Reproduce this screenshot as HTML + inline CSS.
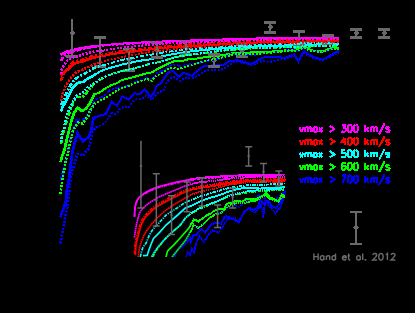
<!DOCTYPE html>
<html><head><meta charset="utf-8"><title>chart</title>
<style>html,body{margin:0;padding:0;background:#000;}body{width:415px;height:313px;overflow:hidden;font-family:"Liberation Sans",sans-serif;}svg{display:block}</style>
</head><body>
<svg width="415" height="313" viewBox="0 0 415 313" shape-rendering="crispEdges">
<rect width="415" height="313" fill="#000"/>
<defs><clipPath id="cl"><rect x="0" y="0" width="96" height="313"/></clipPath><clipPath id="cr"><rect x="96" y="0" width="319" height="313"/></clipPath><g id="mc" fill="none"><path d="M60.5 217.5L62.0 212.5L64.0 207.7L65.9 201.0L66.4 194.3L67.3 186.6L69.0 179.0L70.0 169.3L71.4 158.7L72.8 150.0L74.3 144.3L77.7 133.2L80.0 137.0L83.0 141.4L88.7 136.6L91.6 129.8L92.3 124.0L93.6 118.3L98.7 116.0L105.9 114.0L111.7 101.7L116.7 106.0L122.5 96.6L128.3 99.5L134.8 93.0L139.0 94.5L144.9 89.4L150.8 96.9L153.7 93.3L156.6 86.0L160.9 83.2L165.2 76.7L168.8 72.3L173.2 70.9L176.0 73.8L179.0 77.4L183.3 73.0L188.4 74.5L192.0 76.0L196.3 71.6L204.3 66.0L214.5 65.3L223.0 65.3L229.0 61.0L237.6 60.3L243.4 61.7L250.6 63.9L256.4 61.7L259.3 59.0L266.6 56.8L278.0 56.8L284.0 58.2L289.7 56.0L294.0 54.0L298.4 61.0L304.0 51.0L309.0 54.6L315.2 57.5L322.5 59.7L328.2 56.8L334.0 53.2L338.8 51.0" stroke="#0000ff"/><path d="M60.6 162.0L62.2 155.8L63.2 154.0L64.6 149.0L67.5 136.6L71.9 119.3L74.3 112.5L77.7 107.7L82.0 111.0L85.8 108.7L89.7 103.9L94.3 94.5L100.0 92.3L105.9 88.0L111.7 85.0L117.5 82.9L121.8 80.0L129.0 78.3L145.0 73.8L152.2 72.3L158.0 68.7L163.8 65.8L169.6 63.0L175.3 60.8L182.6 60.8L188.4 59.3L194.0 59.0L200.0 57.9L210.0 56.6L222.3 55.3L234.3 52.9L250.0 52.5L274.0 51.4L290.0 50.0L298.0 49.0L304.4 46.0L309.0 49.0L313.8 51.0L324.0 51.0L332.6 47.4L338.8 48.0" stroke="#00ff00"/><path d="M60.8 111.5L62.6 107.0L66.4 100.4L70.5 91.6L71.4 90.0L73.3 87.2L76.8 83.6L78.6 82.6L83.1 81.8L84.0 81.4L87.8 78.5L94.1 75.2L99.0 72.2L101.0 71.1L107.9 68.5L122.0 64.6L136.9 61.3L143.4 60.2L150.0 59.4L162.0 56.3L174.0 54.0L186.0 52.0L202.0 50.2L223.0 48.4L262.0 46.2L339.0 43.8" stroke="#00ffff"/><path d="M60.8 75.4L65.1 71.9L71.0 66.4L73.8 64.1L75.6 63.1L79.1 62.1L83.0 61.3L89.8 58.8L92.6 57.9L97.3 56.9L103.0 56.1L112.0 54.1L121.0 52.9L130.0 52.1L156.0 48.7L172.0 47.2L186.0 46.3L202.0 45.6L241.0 43.0L264.0 42.3L339.0 41.0" stroke="#ff0000"/><path d="M60.3 54.8L63.7 52.9L66.6 51.8L76.0 49.3L85.0 47.6L101.0 45.4L125.0 43.3L172.0 41.0L202.0 40.2L243.0 38.8L282.0 37.9L339.0 37.6" stroke="#ff00ff"/></g><g id="md" fill="none"><path d="M60.4 243.5L61.0 239.0L62.0 235.0L63.0 228.9L64.0 224.6L65.0 217.3L67.3 206.7L67.8 202.0L69.3 192.3L69.8 184.6L70.7 178.0L73.3 167.3L74.3 164.5L75.2 160.6L77.2 153.9L80.0 153.9L82.5 155.8L88.3 149.0L90.7 140.4L92.1 132.7L95.0 128.0L104.5 123.4L111.7 113.2L116.0 114.0L119.6 109.6L123.2 106.7L128.3 107.5L132.6 101.7L136.2 99.5L139.9 98.8L142.7 98.0L146.4 95.2L149.2 98.8L152.0 100.0L156.0 95.0L159.5 91.8L163.8 90.4L166.7 82.5L171.7 77.4L174.6 77.4L178.2 79.6L181.0 81.0L184.0 78.0L187.0 77.4L190.5 78.0L193.4 78.0L200.6 73.8L205.8 70.4L213.0 69.7L218.8 70.4L223.0 69.0L233.0 62.5L238.0 61.8L252.0 65.3L257.8 62.5L262.0 61.0L269.5 61.8L275.0 61.0L280.0 59.7L286.0 58.5L294.0 55.5L298.4 62.0L304.0 53.0L309.0 56.0L315.0 58.5L322.5 60.5L328.2 57.8L334.0 54.5L338.8 52.5" stroke="#0000ff" stroke-dasharray="2 1.5"/><path d="M61.0 181.0L62.0 175.0L67.0 156.7L68.5 148.0L71.0 137.5L74.3 128.0L77.0 119.0L84.0 120.0L91.6 109.6L92.6 105.8L94.5 100.0L97.2 98.8L104.0 96.5L110.0 90.0L113.0 88.7L121.0 87.5L127.6 85.8L139.0 80.5L146.4 78.0L152.0 79.5L156.6 73.0L162.0 71.0L165.0 69.5L168.0 66.6L172.5 65.0L175.3 64.4L179.0 66.0L182.6 65.8L185.5 65.0L192.7 64.0L197.0 63.0L201.4 62.5L210.0 60.3L220.0 59.0L225.0 57.0L231.0 53.8L240.5 53.8L250.6 55.2L260.8 53.9L281.0 51.7L292.6 48.8L298.0 52.0L304.0 47.0L310.0 50.5L322.0 52.0L333.0 48.5L338.8 49.0" stroke="#0000ff" stroke-dasharray="4.5 1.8 1.8 1.8"/><path d="M60.4 194.0L63.2 175.0L66.0 159.6L68.0 153.0L70.0 142.3L72.8 131.7L75.7 126.0L78.1 122.7L82.5 123.6L85.8 118.8L88.3 115.9L89.2 112.5L91.4 108.2L95.0 103.0L98.7 101.7L103.7 98.8L108.0 96.6L111.7 93.7L116.7 90.8L121.0 88.0L127.6 86.5L133.4 83.6L139.0 81.4L147.0 78.8L152.0 81.0L154.4 76.7L162.3 73.0L166.7 69.5L171.7 68.0L178.2 68.7L192.7 65.0L201.4 62.2L210.0 60.0L222.0 57.5L235.0 54.5L262.0 53.5L290.0 51.0L298.0 50.5L304.0 47.5L310.0 51.0L322.0 52.0L333.0 48.5L338.8 49.5" stroke="#00ff00" stroke-dasharray="2 1.5"/><path d="M60.8 144.3L63.0 133.0L69.5 112.5L73.3 102.5L76.7 97.2L82.5 96.7L85.8 93.8L88.7 90.0L93.4 84.5L100.0 80.0L107.0 76.0L114.5 73.2L121.0 71.3L129.0 69.6L143.4 66.0L149.3 63.9L160.0 62.0L167.0 59.5L174.0 57.5L186.0 55.4L222.0 50.8L242.0 49.0L262.0 48.0L282.0 47.5L339.0 45.6" stroke="#00ff00" stroke-dasharray="4.5 1.8 1.8 1.8"/><path d="M60.8 142.3L61.7 134.6L64.2 127.7L66.0 117.3L68.5 110.6L70.4 106.7L72.3 103.4L73.3 100.5L75.2 97.7L77.7 95.2L81.0 93.8L84.0 91.9L86.3 89.5L88.7 86.6L93.4 84.0L100.0 79.3L107.0 75.8L114.5 73.2L121.0 71.3L129.0 69.6L143.4 66.0L150.0 63.7L160.0 62.0L174.0 57.5L186.0 55.2L222.0 50.5L242.0 48.8L262.0 47.8L339.0 45.3" stroke="#00ffff" stroke-dasharray="2 1.5"/><path d="M60.8 105.0L63.3 101.2L64.0 99.8L65.8 94.5L69.0 87.8L72.8 81.8L75.7 78.6L79.2 76.5L84.9 73.6L91.1 69.5L93.0 68.5L100.0 66.0L108.7 63.8L120.0 60.2L133.0 58.0L142.0 55.9L152.0 54.5L162.0 52.6L187.0 49.2L222.0 46.9L262.0 44.8L283.0 44.0L339.0 42.4" stroke="#00ffff" stroke-dasharray="4.5 1.8 1.8 1.8"/><path d="M60.8 101.0L62.2 95.5L65.2 87.0L66.0 85.4L69.0 80.8L72.3 76.1L74.8 73.5L76.5 72.2L79.1 70.8L83.0 69.6L85.8 68.0L89.2 66.8L93.5 64.6L98.0 62.8L103.0 61.7L109.0 60.0L125.0 56.5L150.0 52.0L172.0 49.4L186.0 48.0L240.0 44.0L262.0 43.2L282.0 42.7L339.0 42.0" stroke="#ff0000" stroke-dasharray="2 1.5"/><path d="M60.8 81.0L61.8 78.2L63.1 75.2L68.0 67.2L70.0 64.8L73.8 61.8L75.5 61.2L83.0 59.6L89.8 57.0L92.6 56.2L97.3 55.2L103.0 54.4L113.0 52.3L122.0 51.1L130.0 50.4L152.0 47.5L171.0 45.6L186.0 44.6L203.0 43.8L241.0 41.3L264.0 40.6L339.0 39.3" stroke="#ff0000" stroke-dasharray="4.5 1.8 1.8 1.8"/><path d="M61.0 74.0L61.5 70.3L61.9 68.7L62.6 67.4L67.0 60.9L69.0 59.2L70.9 58.2L75.6 56.5L92.1 52.0L102.0 50.8L120.0 48.0L139.0 45.8L173.0 43.0L262.0 39.7L283.0 39.3L339.0 38.8" stroke="#ff00ff" stroke-dasharray="2 1.5"/><path d="M60.8 61.0L62.3 58.2L63.2 57.0L65.1 55.2L66.9 54.0L69.5 52.6L74.1 50.9L87.0 48.0L100.0 46.0L110.0 45.0L150.0 42.5L171.0 41.5L202.0 40.7L242.0 39.3L282.0 38.4L339.0 38.1" stroke="#ff00ff" stroke-dasharray="4.5 1.8 1.8 1.8"/></g></defs>
<use href="#mc" stroke-width="2.7" clip-path="url(#cl)"/><use href="#mc" stroke-width="2" clip-path="url(#cr)"/>
<g fill="#696969"><path d="M71.0 19.0h2.0v37.5h-2.0zM66.0 55.0h12.0v3.0h-12.0zM72.0 30.0l3.0 3.0l-3.0 3.0l-3.0 -3.0z"/></g>
<g fill="#696969"><path d="M99.0 37.5h2.0v29.0h-2.0zM94.0 36.0h12.0v3.0h-12.0zM94.0 65.0h12.0v3.0h-12.0zM100.0 48.0l3.0 3.0l-3.0 3.0l-3.0 -3.0z"/></g>
<g fill="#696969"><path d="M128.0 49.0h2.0v21.6h-2.0zM123.0 47.5h12.0v3.0h-12.0zM123.0 69.1h12.0v3.0h-12.0zM129.0 56.5l3.0 3.0l-3.0 3.0l-3.0 -3.0z"/></g>
<g fill="#696969"><path d="M156.0 42.7h2.0v14.8h-2.0zM151.0 41.2h12.0v3.0h-12.0zM151.0 56.0h12.0v3.0h-12.0zM157.0 47.1l3.0 3.0l-3.0 3.0l-3.0 -3.0z"/></g>
<g fill="#696969"><path d="M185.0 41.4h2.0v12.6h-2.0zM180.0 39.9h12.0v3.0h-12.0zM180.0 52.5h12.0v3.0h-12.0zM186.0 45.0l3.0 3.0l-3.0 3.0l-3.0 -3.0z"/></g>
<g fill="#696969"><path d="M212.8 54.0h2.0v12.8h-2.0zM207.8 52.5h12.0v3.0h-12.0zM207.8 65.3h12.0v3.0h-12.0zM213.8 57.3l3.0 3.0l-3.0 3.0l-3.0 -3.0z"/></g>
<g fill="#696969"><path d="M241.0 44.7h2.0v12.0h-2.0zM236.0 43.2h12.0v3.0h-12.0zM236.0 55.2h12.0v3.0h-12.0zM242.0 47.2l3.0 3.0l-3.0 3.0l-3.0 -3.0z"/></g>
<g fill="#696969"><path d="M269.3 22.0h2.0v10.7h-2.0zM264.3 20.5h12.0v3.0h-12.0zM264.3 31.2h12.0v3.0h-12.0zM270.3 24.3l3.0 3.0l-3.0 3.0l-3.0 -3.0z"/></g>
<g fill="#696969"><path d="M298.2 31.3h2.0v12.7h-2.0zM293.2 29.8h12.0v3.0h-12.0zM293.2 42.5h12.0v3.0h-12.0zM299.2 35.4l3.0 3.0l-3.0 3.0l-3.0 -3.0z"/></g>
<g fill="#696969"><path d="M326.6 35.7h2.0v7.8h-2.0zM321.6 34.2h12.0v3.0h-12.0zM321.6 42.0h12.0v3.0h-12.0zM327.6 36.6l3.0 3.0l-3.0 3.0l-3.0 -3.0z"/></g>
<g fill="#696969"><path d="M355.0 29.0h2.0v8.4h-2.0zM350.0 27.5h12.0v3.0h-12.0zM350.0 35.9h12.0v3.0h-12.0zM356.0 30.0l3.0 3.0l-3.0 3.0l-3.0 -3.0z"/></g>
<g fill="#696969"><path d="M383.0 29.0h2.0v8.4h-2.0zM378.0 27.5h12.0v3.0h-12.0zM378.0 35.9h12.0v3.0h-12.0zM384.0 30.0l3.0 3.0l-3.0 3.0l-3.0 -3.0z"/></g>
<use href="#md" stroke-width="2.7" clip-path="url(#cl)"/><use href="#md" stroke-width="2" clip-path="url(#cr)"/>
<defs><clipPath id="il"><rect x="133" y="139" width="57" height="118.3"/></clipPath><clipPath id="ir"><rect x="190" y="139" width="96" height="118.3"/></clipPath><g id="ig" fill="none"><path d="M186.0 257.0L188.0 252.0L190.0 255.0L192.0 249.0L194.0 252.0L195.8 244.8L199.5 236.0L203.8 242.0L208.0 235.4L212.5 230.3L218.2 232.5L222.6 227.5L227.0 218.8L231.2 218.8L235.0 218.2L238.6 222.6L243.7 211.7L249.5 208.8L253.8 212.5L256.7 211.0L261.0 205.2L263.2 217.5L265.3 199.5L269.7 206.7L275.5 213.2L279.8 208.0L282.7 201.0L285.0 193.7" stroke="#0000ff" stroke-dasharray="1.7 0.4"/><path d="M174.8 257.0L176.0 252.0L179.0 248.0L182.0 247.0L187.0 242.0L190.0 238.0L190.8 242.0L193.7 234.7L196.6 234.7L201.0 229.0L205.2 232.5L211.0 224.6L216.0 222.4L221.0 223.8L225.5 215.9L229.8 217.3L234.0 219.5L238.5 222.4L242.8 214.5L245.0 211.6L249.0 207.5L254.0 210.0L258.0 207.0L260.3 200.0L264.0 204.0L268.2 201.0L272.0 206.0L276.0 208.0L280.0 203.0L282.7 198.0L285.0 191.5" stroke="#0000ff"/><path d="M172.0 257.0L186.0 239.7L190.8 231.0L193.7 224.6L198.0 228.0L203.8 223.8L209.6 218.0L215.3 214.5L221.0 213.0L224.0 210.0L228.0 206.5L235.0 205.0L239.3 206.7L245.0 202.3L253.8 199.5L259.6 195.0L263.0 198.5L269.7 198.0L275.5 199.5L281.2 195.0L285.0 190.8" stroke="#0000ff" stroke-dasharray="3.4 1.1 1.2 1.1"/><path d="M172.0 257.0L186.0 239.7L190.8 231.0L193.7 224.6L198.0 228.0L203.8 223.8L209.6 218.0L215.3 214.5L221.0 213.0L224.0 210.0L228.0 206.5L235.0 203.5L243.7 203.0L249.5 201.6L256.0 200.5L262.0 197.0L266.0 195.0L270.0 199.0L278.0 202.0L282.0 196.5L285.0 197.5" stroke="#00ff00" stroke-dasharray="1.7 0.4"/><path d="M166.0 257.0L167.6 251.0L173.4 245.3L180.6 237.5L188.9 228.1L191.5 223.5L194.0 219.5L196.5 220.5L198.3 221.6L201.0 219.5L203.4 218.0L206.7 215.2L210.6 213.7L214.0 210.8L219.7 208.7L224.0 208.7L227.0 203.6L234.0 202.2L235.0 201.0L242.2 201.6L246.6 198.7L256.7 198.7L264.0 195.0L266.0 192.2L269.7 197.3L278.4 201.0L282.0 194.4L285.0 196.5" stroke="#00ff00"/><path d="M153.0 257.0L155.0 252.5L159.0 246.8L166.0 238.0L173.4 231.0L180.6 225.0L185.0 218.5L192.2 213.0L199.5 208.7L214.0 202.9L228.4 196.3L235.0 194.4L249.5 192.2L264.0 190.8L285.0 190.0" stroke="#00ff00" stroke-dasharray="3.4 1.1 1.2 1.1"/><path d="M151.7 257.0L154.5 252.0L156.3 249.2L159.1 245.7L162.0 242.3L166.0 238.1L172.5 231.9L179.7 225.7L181.5 223.6L184.1 219.7L185.9 217.5L191.3 212.8L194.0 211.1L199.5 208.3L220.0 200.0L228.4 196.1L236.5 193.6L245.0 191.7L259.0 190.1L285.0 188.8" stroke="#00ffff" stroke-dasharray="1.7 0.4"/><path d="M143.0 255.6L147.2 255.4L148.8 250.3L151.0 244.5L153.5 238.5L160.0 231.8L166.0 225.0L177.7 215.0L185.0 208.3L192.2 205.4L199.5 201.8L206.7 198.9L221.0 194.6L228.4 191.7L235.6 189.5L245.0 187.8L260.0 188.5L285.0 187.2" stroke="#00ffff"/><path d="M140.3 257.0L141.6 251.2L142.6 248.2L143.2 246.9L145.8 243.5L146.5 242.1L149.0 235.9L151.7 231.2L153.6 228.6L159.0 222.9L166.0 215.2L167.9 213.8L177.7 207.6L185.0 202.6L199.5 196.7L226.6 188.5L229.4 187.9L245.0 185.5L260.0 185.0L285.0 183.5" stroke="#00ffff" stroke-dasharray="3.4 1.1 1.2 1.1"/><path d="M138.3 257.0L138.8 252.4L139.4 249.1L140.6 244.0L141.8 240.3L143.9 235.4L145.4 232.7L148.9 227.6L151.7 223.9L155.4 220.1L159.0 216.1L166.0 210.1L173.4 205.0L185.9 197.6L192.2 194.6L199.5 191.8L214.0 188.8L227.4 184.8L229.4 184.4L246.0 182.5L285.0 181.5" stroke="#ff0000" stroke-dasharray="1.7 0.4"/><path d="M135.4 255.3L135.8 246.7L136.1 243.5L137.7 238.0L140.0 228.8L141.9 223.5L143.7 219.9L144.7 218.4L146.4 216.2L150.8 211.8L153.5 209.3L157.2 206.6L167.8 200.4L184.9 192.0L186.8 191.2L192.2 189.6L200.4 187.9L214.9 185.8L228.3 183.1L245.9 181.3L285.9 180.1" stroke="#ff0000"/><path d="M134.5 254.0L134.9 245.4L135.2 242.2L136.8 236.7L139.1 227.5L141.0 222.2L142.8 218.6L143.8 217.1L145.5 214.9L149.8 210.5L152.6 208.0L156.3 205.3L166.9 199.1L184.0 190.7L185.9 189.9L191.3 188.3L199.5 186.6L214.0 184.5L227.4 181.8L245.0 180.0L285.0 178.8" stroke="#ff0000" stroke-dasharray="3.4 1.1 1.2 1.1"/><path d="M134.3 237.5L136.6 223.7L139.0 214.7L139.6 213.1L140.4 211.6L142.3 208.9L143.2 207.9L147.1 204.5L149.0 203.0L159.0 196.9L184.0 186.4L192.2 183.7L198.6 182.5L214.0 180.8L229.4 178.6L246.0 177.4L285.0 176.8" stroke="#ff00ff" stroke-dasharray="1.7 0.4"/><path d="M134.5 217.0L134.9 210.0L135.4 206.0L136.5 202.3L137.2 200.8L138.8 198.5L139.7 197.6L142.6 195.3L145.4 193.4L151.7 190.2L158.1 187.7L160.0 187.1L174.4 183.4L186.9 180.9L198.5 178.8L200.5 178.5L214.0 177.7L229.4 176.5L246.0 176.0L285.0 175.3" stroke="#ff00ff" stroke-dasharray="3.4 1.1 1.2 1.1"/><path d="M134.5 216.2L134.9 209.2L135.4 205.2L136.5 201.5L137.2 200.0L138.8 197.7L139.7 196.8L142.6 194.5L145.4 192.6L151.7 189.4L158.1 186.9L160.0 186.3L174.4 182.6L186.9 180.1L198.5 178.0L200.5 177.7L214.0 176.9L229.4 175.7L246.0 175.2L285.0 174.5" stroke="#ff00ff"/></g></defs>
<use href="#ig" stroke-width="1.7" clip-path="url(#il)" shape-rendering="geometricPrecision"/><use href="#ig" stroke-width="1.9" clip-path="url(#ir)"/>
<g fill="#696969" shape-rendering="geometricPrecision"><path d="M140.2 140.8h1.5v67.2h-1.5zM137.5 207.2h7.0v1.5h-7.0zM141.0 164.4l1.6 1.6l-1.6 1.6l-1.6 -1.6z"/></g>
<g fill="#696969" shape-rendering="geometricPrecision"><path d="M155.6 173.8h1.5v52.2h-1.5zM152.8 173.1h7.0v1.5h-7.0zM152.8 225.2h7.0v1.5h-7.0zM156.3 198.4l1.6 1.6l-1.6 1.6l-1.6 -1.6z"/></g>
<g fill="#696969" shape-rendering="geometricPrecision"><path d="M170.8 195.8h1.5v38.8h-1.5zM168.0 195.1h7.0v1.5h-7.0zM168.0 233.8h7.0v1.5h-7.0zM171.5 213.4l1.6 1.6l-1.6 1.6l-1.6 -1.6z"/></g>
<g fill="#696969" shape-rendering="geometricPrecision"><path d="M186.2 182.0h1.5v29.8h-1.5zM183.5 181.2h7.0v1.5h-7.0zM183.5 211.1h7.0v1.5h-7.0zM187.0 195.4l1.6 1.6l-1.6 1.6l-1.6 -1.6z"/></g>
<g fill="#696969" shape-rendering="geometricPrecision"><path d="M201.2 178.0h1.5v28.0h-1.5zM198.5 177.2h7.0v1.5h-7.0zM198.5 205.2h7.0v1.5h-7.0zM202.0 190.4l1.6 1.6l-1.6 1.6l-1.6 -1.6z"/></g>
<g fill="#696969" shape-rendering="geometricPrecision"><path d="M216.8 205.0h1.5v22.6h-1.5zM214.1 204.2h7.0v1.5h-7.0zM214.1 226.8h7.0v1.5h-7.0zM217.6 212.9l1.6 1.6l-1.6 1.6l-1.6 -1.6z"/></g>
<g fill="#696969" shape-rendering="geometricPrecision"><path d="M231.9 188.3h1.5v19.7h-1.5zM229.2 187.6h7.0v1.5h-7.0zM229.2 207.2h7.0v1.5h-7.0zM232.7 195.4l1.6 1.6l-1.6 1.6l-1.6 -1.6z"/></g>
<g fill="#696969" shape-rendering="geometricPrecision"><path d="M247.9 146.8h1.5v19.2h-1.5zM245.2 146.1h7.0v1.5h-7.0zM245.2 165.2h7.0v1.5h-7.0zM248.7 154.3l1.6 1.6l-1.6 1.6l-1.6 -1.6z"/></g>
<g fill="#696969" shape-rendering="geometricPrecision"><path d="M262.8 163.6h1.5v18.4h-1.5zM260.0 162.8h7.0v1.5h-7.0zM260.0 181.2h7.0v1.5h-7.0zM263.5 170.2l1.6 1.6l-1.6 1.6l-1.6 -1.6z"/></g>
<g fill="#696969" shape-rendering="geometricPrecision"><path d="M278.1 171.0h1.5v15.0h-1.5zM275.3 170.2h7.0v1.5h-7.0zM275.3 185.2h7.0v1.5h-7.0zM278.8 176.4l1.6 1.6l-1.6 1.6l-1.6 -1.6z"/></g>
<g fill="#696969"><path d="M355.0 212.0h2.0v32.0h-2.0zM350.0 211.2h12.0v1.6h-12.0zM350.0 243.2h12.0v1.6h-12.0zM356.0 224.7l3.0 3.0l-3.0 3.0l-3.0 -3.0z"/></g>
<path d="M299.8 127.3L301.5 132.0M303.3 127.3L301.5 132.0M305.0 127.3L305.0 132.0M305.0 128.6L305.9 127.6L306.5 127.3L307.4 127.3L308.0 127.6L308.3 128.6L308.3 132.0M308.3 128.6L309.1 127.6L309.7 127.3L310.6 127.3L311.2 127.6L311.5 128.6L311.5 132.0M317.0 127.3L317.0 132.0M317.0 128.3L316.4 127.6L315.8 127.3L315.0 127.3L314.4 127.6L313.8 128.3L313.5 129.3L313.5 130.0L313.8 131.0L314.4 131.7L315.0 132.0L315.8 132.0L316.4 131.7L317.0 131.0M319.1 127.3L322.3 132.0M322.3 127.3L319.1 132.0M329.7 125.9L334.6 129.0L329.7 132.0M342.1 124.9L345.5 124.9L343.6 127.6L344.6 127.6L345.2 127.9L345.5 128.3L345.8 129.3L345.8 130.0L345.5 131.0L344.9 131.7L343.9 132.0L343.0 132.0L342.1 131.7L341.8 131.3L341.5 130.6M349.4 124.9L348.5 125.2L347.9 126.3L347.6 127.9L347.6 129.0L347.9 130.6L348.5 131.7L349.4 132.0L350.0 132.0L351.0 131.7L351.6 130.6L351.9 129.0L351.9 127.9L351.6 126.3L351.0 125.2L350.0 124.9L349.4 124.9M355.5 124.9L354.6 125.2L354.0 126.3L353.7 127.9L353.7 129.0L354.0 130.6L354.6 131.7L355.5 132.0L356.1 132.0L357.1 131.7L357.7 130.6L358.0 129.0L358.0 127.9L357.7 126.3L357.1 125.2L356.1 124.9L355.5 124.9M365.4 124.9L365.4 132.0M368.4 127.3L365.4 130.6M366.6 129.3L368.7 132.0M370.6 127.3L370.6 132.0M370.6 128.6L371.5 127.6L372.1 127.3L373.0 127.3L373.6 127.6L373.9 128.6L373.9 132.0M373.9 128.6L374.8 127.6L375.5 127.3L376.4 127.3L377.0 127.6L377.3 128.6L377.3 132.0M384.6 123.5L379.1 134.4M389.5 128.3L389.2 127.6L388.3 127.3L387.3 127.3L386.4 127.6L386.1 128.3L386.4 129.0L387.0 129.3L388.6 129.6L389.2 130.0L389.5 130.6L389.5 131.0L389.2 131.7L388.3 132.0L387.3 132.0L386.4 131.7L386.1 131.0" fill="none" stroke="#ff00ff" stroke-width="2.05" stroke-linejoin="round"/>
<path d="M299.8 139.9L301.5 144.7M303.3 139.9L301.5 144.7M305.0 139.9L305.0 144.7M305.0 141.3L305.9 140.3L306.5 139.9L307.4 139.9L308.0 140.3L308.3 141.3L308.3 144.7M308.3 141.3L309.1 140.3L309.7 139.9L310.6 139.9L311.2 140.3L311.5 141.3L311.5 144.7M317.0 139.9L317.0 144.7M317.0 140.9L316.4 140.3L315.8 139.9L315.0 139.9L314.4 140.3L313.8 140.9L313.5 141.9L313.5 142.6L313.8 143.6L314.4 144.3L315.0 144.7L315.8 144.7L316.4 144.3L317.0 143.6M319.1 139.9L322.3 144.7M322.3 139.9L319.1 144.7M329.7 138.6L334.6 141.6L329.7 144.7M344.6 137.6L341.5 142.3L346.1 142.3M344.6 137.6L344.6 144.7M349.4 137.6L348.5 137.9L347.9 138.9L347.6 140.6L347.6 141.6L347.9 143.3L348.5 144.3L349.4 144.7L350.0 144.7L351.0 144.3L351.6 143.3L351.9 141.6L351.9 140.6L351.6 138.9L351.0 137.9L350.0 137.6L349.4 137.6M355.5 137.6L354.6 137.9L354.0 138.9L353.7 140.6L353.7 141.6L354.0 143.3L354.6 144.3L355.5 144.7L356.1 144.7L357.1 144.3L357.7 143.3L358.0 141.6L358.0 140.6L357.7 138.9L357.1 137.9L356.1 137.6L355.5 137.6M365.4 137.6L365.4 144.7M368.4 139.9L365.4 143.3M366.6 141.9L368.7 144.7M370.6 139.9L370.6 144.7M370.6 141.3L371.5 140.3L372.1 139.9L373.0 139.9L373.6 140.3L373.9 141.3L373.9 144.7M373.9 141.3L374.8 140.3L375.5 139.9L376.4 139.9L377.0 140.3L377.3 141.3L377.3 144.7M384.6 136.2L379.1 147.0M389.5 140.9L389.2 140.3L388.3 139.9L387.3 139.9L386.4 140.3L386.1 140.9L386.4 141.6L387.0 141.9L388.6 142.3L389.2 142.6L389.5 143.3L389.5 143.6L389.2 144.3L388.3 144.7L387.3 144.7L386.4 144.3L386.1 143.6" fill="none" stroke="#ff0000" stroke-width="2.05" stroke-linejoin="round"/>
<path d="M299.8 152.6L301.5 157.3M303.3 152.6L301.5 157.3M305.0 152.6L305.0 157.3M305.0 153.9L305.9 152.9L306.5 152.6L307.4 152.6L308.0 152.9L308.3 153.9L308.3 157.3M308.3 153.9L309.1 152.9L309.7 152.6L310.6 152.6L311.2 152.9L311.5 153.9L311.5 157.3M317.0 152.6L317.0 157.3M317.0 153.6L316.4 152.9L315.8 152.6L315.0 152.6L314.4 152.9L313.8 153.6L313.5 154.6L313.5 155.3L313.8 156.3L314.4 157.0L315.0 157.3L315.8 157.3L316.4 157.0L317.0 156.3M319.1 152.6L322.3 157.3M322.3 152.6L319.1 157.3M329.7 151.2L334.6 154.3L329.7 157.3M345.2 150.2L342.1 150.2L341.8 153.2L342.1 152.9L343.0 152.6L343.9 152.6L344.9 152.9L345.5 153.6L345.8 154.6L345.8 155.3L345.5 156.3L344.9 157.0L343.9 157.3L343.0 157.3L342.1 157.0L341.8 156.6L341.5 155.9M349.4 150.2L348.5 150.5L347.9 151.6L347.6 153.2L347.6 154.3L347.9 155.9L348.5 157.0L349.4 157.3L350.0 157.3L351.0 157.0L351.6 155.9L351.9 154.3L351.9 153.2L351.6 151.6L351.0 150.5L350.0 150.2L349.4 150.2M355.5 150.2L354.6 150.5L354.0 151.6L353.7 153.2L353.7 154.3L354.0 155.9L354.6 157.0L355.5 157.3L356.1 157.3L357.1 157.0L357.7 155.9L358.0 154.3L358.0 153.2L357.7 151.6L357.1 150.5L356.1 150.2L355.5 150.2M365.4 150.2L365.4 157.3M368.4 152.6L365.4 155.9M366.6 154.6L368.7 157.3M370.6 152.6L370.6 157.3M370.6 153.9L371.5 152.9L372.1 152.6L373.0 152.6L373.6 152.9L373.9 153.9L373.9 157.3M373.9 153.9L374.8 152.9L375.5 152.6L376.4 152.6L377.0 152.9L377.3 153.9L377.3 157.3M384.6 148.9L379.1 159.7M389.5 153.6L389.2 152.9L388.3 152.6L387.3 152.6L386.4 152.9L386.1 153.6L386.4 154.3L387.0 154.6L388.6 154.9L389.2 155.3L389.5 155.9L389.5 156.3L389.2 157.0L388.3 157.3L387.3 157.3L386.4 157.0L386.1 156.3" fill="none" stroke="#00ffff" stroke-width="2.05" stroke-linejoin="round"/>
<path d="M299.8 165.2L301.5 169.9M303.3 165.2L301.5 169.9M305.0 165.2L305.0 169.9M305.0 166.6L305.9 165.6L306.5 165.2L307.4 165.2L308.0 165.6L308.3 166.6L308.3 169.9M308.3 166.6L309.1 165.6L309.7 165.2L310.6 165.2L311.2 165.6L311.5 166.6L311.5 169.9M317.0 165.2L317.0 169.9M317.0 166.2L316.4 165.6L315.8 165.2L315.0 165.2L314.4 165.6L313.8 166.2L313.5 167.2L313.5 167.9L313.8 168.9L314.4 169.6L315.0 169.9L315.8 169.9L316.4 169.6L317.0 168.9M319.1 165.2L322.3 169.9M322.3 165.2L319.1 169.9M329.7 163.9L334.6 166.9L329.7 169.9M345.5 163.9L345.2 163.2L344.2 162.9L343.6 162.9L342.7 163.2L342.1 164.2L341.8 165.9L341.8 167.6L342.1 168.9L342.7 169.6L343.6 169.9L343.9 169.9L344.9 169.6L345.5 168.9L345.8 167.9L345.8 167.6L345.5 166.6L344.9 165.9L343.9 165.6L343.6 165.6L342.7 165.9L342.1 166.6L341.8 167.6M349.4 162.9L348.5 163.2L347.9 164.2L347.6 165.9L347.6 166.9L347.9 168.6L348.5 169.6L349.4 169.9L350.0 169.9L351.0 169.6L351.6 168.6L351.9 166.9L351.9 165.9L351.6 164.2L351.0 163.2L350.0 162.9L349.4 162.9M355.5 162.9L354.6 163.2L354.0 164.2L353.7 165.9L353.7 166.9L354.0 168.6L354.6 169.6L355.5 169.9L356.1 169.9L357.1 169.6L357.7 168.6L358.0 166.9L358.0 165.9L357.7 164.2L357.1 163.2L356.1 162.9L355.5 162.9M365.4 162.9L365.4 169.9M368.4 165.2L365.4 168.6M366.6 167.2L368.7 169.9M370.6 165.2L370.6 169.9M370.6 166.6L371.5 165.6L372.1 165.2L373.0 165.2L373.6 165.6L373.9 166.6L373.9 169.9M373.9 166.6L374.8 165.6L375.5 165.2L376.4 165.2L377.0 165.6L377.3 166.6L377.3 169.9M384.6 161.5L379.1 172.3M389.5 166.2L389.2 165.6L388.3 165.2L387.3 165.2L386.4 165.6L386.1 166.2L386.4 166.9L387.0 167.2L388.6 167.6L389.2 167.9L389.5 168.6L389.5 168.9L389.2 169.6L388.3 169.9L387.3 169.9L386.4 169.6L386.1 168.9" fill="none" stroke="#00ff00" stroke-width="2.05" stroke-linejoin="round"/>
<path d="M299.8 177.9L301.5 182.6M303.3 177.9L301.5 182.6M305.0 177.9L305.0 182.6M305.0 179.2L305.9 178.2L306.5 177.9L307.4 177.9L308.0 178.2L308.3 179.2L308.3 182.6M308.3 179.2L309.1 178.2L309.7 177.9L310.6 177.9L311.2 178.2L311.5 179.2L311.5 182.6M317.0 177.9L317.0 182.6M317.0 178.9L316.4 178.2L315.8 177.9L315.0 177.9L314.4 178.2L313.8 178.9L313.5 179.9L313.5 180.6L313.8 181.6L314.4 182.3L315.0 182.6L315.8 182.6L316.4 182.3L317.0 181.6M319.1 177.9L322.3 182.6M322.3 177.9L319.1 182.6M329.7 176.5L334.6 179.6L329.7 182.6M345.8 175.5L342.7 182.6M341.5 175.5L345.8 175.5M349.4 175.5L348.5 175.8L347.9 176.9L347.6 178.5L347.6 179.6L347.9 181.2L348.5 182.3L349.4 182.6L350.0 182.6L351.0 182.3L351.6 181.2L351.9 179.6L351.9 178.5L351.6 176.9L351.0 175.8L350.0 175.5L349.4 175.5M355.5 175.5L354.6 175.8L354.0 176.9L353.7 178.5L353.7 179.6L354.0 181.2L354.6 182.3L355.5 182.6L356.1 182.6L357.1 182.3L357.7 181.2L358.0 179.6L358.0 178.5L357.7 176.9L357.1 175.8L356.1 175.5L355.5 175.5M365.4 175.5L365.4 182.6M368.4 177.9L365.4 181.2M366.6 179.9L368.7 182.6M370.6 177.9L370.6 182.6M370.6 179.2L371.5 178.2L372.1 177.9L373.0 177.9L373.6 178.2L373.9 179.2L373.9 182.6M373.9 179.2L374.8 178.2L375.5 177.9L376.4 177.9L377.0 178.2L377.3 179.2L377.3 182.6M384.6 174.2L379.1 185.0M389.5 178.9L389.2 178.2L388.3 177.9L387.3 177.9L386.4 178.2L386.1 178.9L386.4 179.6L387.0 179.9L388.6 180.2L389.2 180.6L389.5 181.2L389.5 181.6L389.2 182.3L388.3 182.6L387.3 182.6L386.4 182.3L386.1 181.6" fill="none" stroke="#0000ff" stroke-width="2.05" stroke-linejoin="round"/>
<path d="M313.9 253.5L313.9 260.0M318.1 253.5L318.1 260.0M313.9 256.6L318.1 256.6M323.9 255.7L323.9 260.0M323.9 256.6L323.3 256.0L322.7 255.7L321.8 255.7L321.2 256.0L320.6 256.6L320.3 257.5L320.3 258.1L320.6 259.1L321.2 259.7L321.8 260.0L322.7 260.0L323.3 259.7L323.9 259.1M326.4 255.7L326.4 260.0M326.4 256.9L327.3 256.0L327.9 255.7L328.8 255.7L329.4 256.0L329.7 256.9L329.7 260.0M335.5 253.5L335.5 260.0M335.5 256.6L334.9 256.0L334.3 255.7L333.4 255.7L332.8 256.0L332.2 256.6L331.9 257.5L331.9 258.1L332.2 259.1L332.8 259.7L333.4 260.0L334.3 260.0L334.9 259.7L335.5 259.1M342.5 257.5L346.2 257.5L346.2 256.9L345.9 256.3L345.6 256.0L345.0 255.7L344.1 255.7L343.5 256.0L342.8 256.6L342.5 257.5L342.5 258.1L342.8 259.1L343.5 259.7L344.1 260.0L345.0 260.0L345.6 259.7L346.2 259.1M348.6 253.5L348.6 258.8L348.9 259.7L349.6 260.0L350.2 260.0M347.7 255.7L349.9 255.7M360.2 255.7L360.2 260.0M360.2 256.6L359.6 256.0L359.0 255.7L358.1 255.7L357.5 256.0L356.9 256.6L356.6 257.5L356.6 258.1L356.9 259.1L357.5 259.7L358.1 260.0L359.0 260.0L359.6 259.7L360.2 259.1M362.7 253.5L362.7 260.0M365.4 259.4L365.1 259.7L365.4 260.0L365.7 259.7L365.4 259.4M373.0 255.0L373.0 254.7L373.3 254.1L373.6 253.8L374.3 253.5L375.5 253.5L376.1 253.8L376.4 254.1L376.7 254.7L376.7 255.3L376.4 256.0L375.8 256.9L372.7 260.0L377.0 260.0M380.7 253.5L379.8 253.8L379.1 254.7L378.8 256.3L378.8 257.2L379.1 258.8L379.8 259.7L380.7 260.0L381.3 260.0L382.2 259.7L382.8 258.8L383.1 257.2L383.1 256.3L382.8 254.7L382.2 253.8L381.3 253.5L380.7 253.5M385.8 254.7L386.5 254.4L387.4 253.5L387.4 260.0M391.3 255.0L391.3 254.7L391.6 254.1L391.9 253.8L392.6 253.5L393.8 253.5L394.4 253.8L394.7 254.1L395.0 254.7L395.0 255.3L394.7 256.0L394.1 256.9L391.0 260.0L395.3 260.0" fill="none" stroke="#696969" stroke-width="1.45" shape-rendering="geometricPrecision"/>
</svg>
</body></html>
